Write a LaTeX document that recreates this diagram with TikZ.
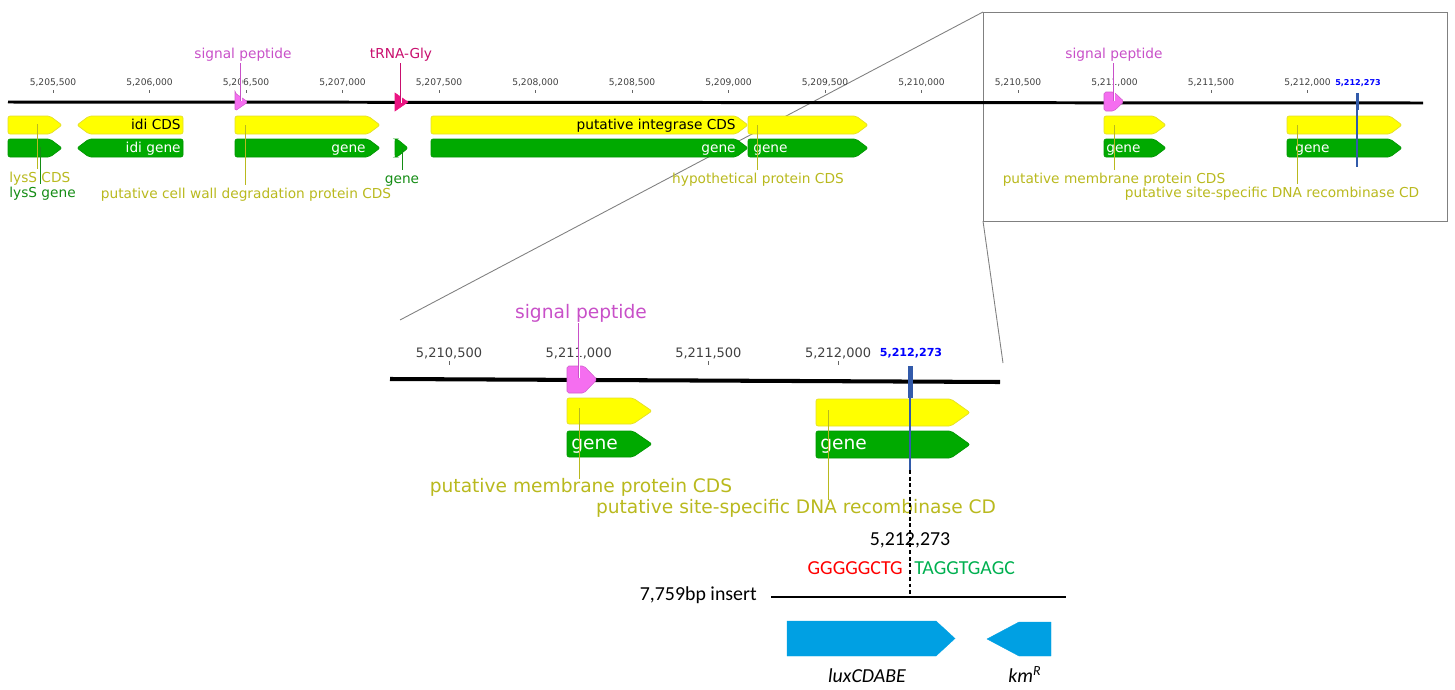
\documentclass[tikz,border=0pt]{standalone}
\usepackage{fontspec}
\setmainfont{DejaVu Sans}
\newfontfamily\slidefont{Carlito}
\usetikzlibrary{positioning}
\definecolor{cdsyellow}{RGB}{255,255,0}
\definecolor{cdsedge}{RGB}{228,222,40}
\definecolor{genegreen}{RGB}{0,170,0}
\definecolor{geneedge}{RGB}{0,150,0}
\definecolor{sigpink}{RGB}{245,110,240}
\definecolor{siglabel}{RGB}{200,80,200}
\definecolor{trnapink}{RGB}{235,20,130}
\definecolor{trnalabel}{RGB}{200,15,110}
\definecolor{cdslabel}{RGB}{185,185,30}
\definecolor{genelabel}{RGB}{20,140,20}
\definecolor{markblue}{RGB}{50,90,170}
\definecolor{luxblue}{RGB}{0,160,227}
\definecolor{seqred}{RGB}{255,0,0}
\definecolor{seqgreen}{RGB}{0,176,80}
\tikzset{
	track/.style = {line width=1.7pt, black},
	bigtrack/.style = {line width=2.3pt, black},
	tickmark/.style = {black!60, line width=0.5pt},
	ticklab/.style = {font=\fontsize{5.2}{6}\selectfont, text=black!75, inner sep=0pt},
	bigticklab/.style = {font=\fontsize{7.4}{9}\selectfont, text=black!75, inner sep=0pt},
	poslab/.style = {font=\bfseries\fontsize{4.6}{5}\selectfont, text=blue, inner sep=0pt},
	bigposlab/.style = {font=\bfseries\fontsize{6.3}{7}\selectfont, text=blue, inner sep=0pt},
	cdsbox/.style = {fill=cdsyellow, draw=cdsedge, line width=0.4pt, rounded corners=1.2pt},
	genebox/.style = {fill=genegreen, draw=geneedge, line width=0.4pt, rounded corners=1.2pt},
	sigbox/.style = {fill=sigpink, draw=sigpink!85!black, line width=0.3pt, rounded corners=1pt},
	trnabox/.style = {fill=trnapink, draw=trnapink, line width=0.3pt},
	featlab/.style = {font=\fontsize{7.8}{9}\selectfont, inner sep=0pt, text height=0.76em, text depth=0.24em},
	bigfeatlab/.style = {font=\fontsize{10.6}{12}\selectfont, inner sep=0pt, text height=0.76em, text depth=0.24em},
	lead/.style = {line width=0.5pt},
	hollowlead/.style = {double=white, double distance=0.5pt, line width=0.4pt},
	zoomframe/.style = {draw=black!50, line width=0.5pt},
	slidetext/.style = {font=\slidefont\fontsize{11.3}{13}\selectfont, inner sep=0pt, text height=0.7em, text depth=0.2em},
	luxarrow/.style = {fill=luxblue, draw=luxblue, line width=0.2pt}
}
% forward feature: style, x1, x2, ytop, ybottom, head length
\newcommand{\fwdfeat}[6]{\filldraw[#1] (#2,#4) -- ({#3-#6},#4) -- (#3,{(#4+#5)/2}) -- ({#3-#6},#5) -- (#2,#5) -- cycle;}
% reverse feature: style, x1 (tip), x2, ytop, ybottom, head length
\newcommand{\revfeat}[6]{\filldraw[#1] (#3,#4) -- ({#2+#6},#4) -- (#2,{(#4+#5)/2}) -- ({#2+#6},#5) -- (#3,#5) -- cycle;}

\begin{document}
\begin{tikzpicture}[x=0.02cm, y=-0.02cm]
		\useasboundingbox (0,0) rectangle (1455,690);
		
		% Zoom frame and zoom lines
		\coordinate (box_nw) at (983,12);
		\coordinate (box_sw) at (983,221);
		\coordinate (zoom_left) at (400,320);
		\coordinate (zoom_right) at (1003,363);
		\draw [zoomframe] (box_nw) rectangle (1447,221);
		\draw [zoomframe] (box_nw) -- (zoom_left);
		\draw [zoomframe] (box_sw) -- (zoom_right);
		
		% Top track: ruler
		\draw [track] (8,102) -- (1423,103);
		\foreach \k/\lab in {0/{205,500},1/{206,000},2/{206,500},3/{207,000},4/{207,500},5/{208,000},6/{208,500},7/{209,000},8/{209,500},9/{210,000},10/{210,500},11/{211,000},12/{211,500},13/{212,000}}{
			\draw [tickmark] ({53+96.5*\k},90) -- ++(0,3);
			\node (tick_\k) [ticklab] at ({53+96.5*\k},83) {5,\lab};
		}
		\node (pos_top) [poslab] at (1358,83) {5,212,273};
		
		% Top track: features
		\fwdfeat{cdsbox}{8}{62}{116}{134}{12}
		\fwdfeat{genebox}{8}{62}{139}{157}{12}
		\revfeat{cdsbox}{77}{183}{116}{134}{12}
		\revfeat{genebox}{77}{183}{139}{157}{12}
		\fwdfeat{sigbox}{235}{248}{93}{111}{13}
		\fwdfeat{cdsbox}{235}{380}{116}{134}{12}
		\fwdfeat{genebox}{235}{380}{139}{157}{12}
		\fwdfeat{trnabox}{395}{408}{93}{111}{13}
		\fwdfeat{genebox}{395}{408}{139}{157}{11}
		\fwdfeat{cdsbox}{431}{748}{116}{134}{12}
		\fwdfeat{genebox}{431}{748}{139}{157}{12}
		\fwdfeat{cdsbox}{748}{868}{116}{134}{12}
		\fwdfeat{genebox}{748}{868}{139}{157}{12}
		\fwdfeat{sigbox}{1104}{1124}{92}{111}{10}
		\fwdfeat{cdsbox}{1104}{1166}{116}{134}{12}
		\fwdfeat{genebox}{1104}{1166}{139}{157}{12}
		\fwdfeat{cdsbox}{1287}{1402}{116}{134}{12}
		\fwdfeat{genebox}{1287}{1402}{139}{157}{12}
		\fill [markblue] (1355.5,93) rectangle (1358.5,110);
		\draw [markblue, line width=0.6pt] (1357,110) -- (1357,167);
		
		% Top track: texts inside features
		\node (idi_cds) [featlab, anchor=east] at (181,125) {idi CDS};
		\node (idi_gene) [featlab, anchor=east, text=white] at (181,148) {idi gene};
		\node (cw_gene) [featlab, anchor=east, text=white] at (366,148) {gene};
		\node (int_cds) [featlab, anchor=east] at (736,125) {putative integrase CDS};
		\node (int_gene) [featlab, anchor=east, text=white] at (736,148) {gene};
		\node (hyp_gene) [featlab, anchor=west, text=white] at (753,148) {gene};
		\node (mem_gene) [featlab, anchor=west, text=white] at (1106,148) {gene};
		\node (rec_gene) [featlab, anchor=west, text=white] at (1295,148) {gene};
		
		% Top track: labels
		\node (sig_lab1) [featlab, text=siglabel] at (243,54) {signal peptide};
		\node (trna_lab) [featlab, text=trnalabel] at (401,54) {tRNA-Gly};
		\node (lys_cds) [featlab, text=cdslabel, anchor=west] at (9,178) {lysS CDS};
		\node (lys_gene) [featlab, text=genelabel, anchor=west] at (9,193) {lysS gene};
		\node (cw_lab) [featlab, text=cdslabel] at (246,194) {putative cell wall degradation protein CDS};
		\node (trna_gene) [featlab, text=genelabel] at (402,179) {gene};
		\node (hyp_lab) [featlab, text=cdslabel] at (758,179) {hypothetical protein CDS};
		\node (sig_lab2) [featlab, text=siglabel] at (1114,54) {signal peptide};
		\node (mem_lab) [featlab, text=cdslabel] at (1114,179) {putative membrane protein CDS};
		\node (rec_lab) [featlab, text=cdslabel] at (1272,193) {putative site-specific DNA recombinase CD};
		
		% Top track: leader lines
		\draw [hollowlead, siglabel] (sig_lab1.south -| 241,0) -- (241,101);
		\draw [hollowlead, trnalabel] (trna_lab.south -| 401,0) -- (401,103);
		\draw [hollowlead, siglabel] (sig_lab2.south -| 1114,0) -- (1114,101);
		\draw [lead, cdslabel] (37,124) -- (lys_cds.north -| 37,0);
		\draw [lead, genelabel] (40,147) -- (lys_gene.north -| 40,0);
		\draw [lead, cdslabel] (245,125) -- (cw_lab.north -| 245,0);
		\draw [lead, genelabel] (402,147) -- (trna_gene.north -| 402,0);
		\draw [lead, cdslabel] (757,125) -- (hyp_lab.north -| 757,0);
		\draw [lead, cdslabel] (1114,125) -- (mem_lab.north -| 1114,0);
		\draw [lead, cdslabel] (1297,125) -- (rec_lab.north -| 1297,0);
		
		% Bottom track: ruler
		\draw [bigtrack] (390,379) -- (1000,382);
		\foreach \k/\lab in {0/{210,500},1/{211,000},2/{211,500},3/{212,000}}{
			\draw [tickmark] ({449+129.7*\k},361) -- ++(0,4);
			\node (btick_\k) [bigticklab] at ({449+129.7*\k},353) {5,\lab};
		}
		\node (pos_bottom) [bigposlab] at (911,353) {5,212,273};
		
		% Bottom track: features
		\fwdfeat{sigbox}{567}{597}{366}{393}{13}
		\fwdfeat{cdsbox}{567}{652}{398}{424}{19}
		\fwdfeat{genebox}{567}{652}{431}{457}{19}
		\fwdfeat{cdsbox}{816}{970}{399}{426}{19}
		\fwdfeat{genebox}{816}{970}{431}{458}{19}
		\fill [markblue] (907.5,366) rectangle (912.5,398);
		\draw [markblue, line width=0.8pt] (910,398) -- (910,470);
		\node (bmem_gene) [bigfeatlab, anchor=west, text=white] at (571,445) {gene};
		\node (brec_gene) [bigfeatlab, anchor=west, text=white] at (820,445) {gene};
		
		% Bottom track: labels and leader lines
		\node (bsig_lab) [bigfeatlab, text=siglabel] at (581,314) {signal peptide};
		\node (bmem_lab) [bigfeatlab, text=cdslabel] at (581,488) {putative membrane protein CDS};
		\node (brec_lab) [bigfeatlab, text=cdslabel] at (796,509) {putative site-specific DNA recombinase CD};
		\draw [hollowlead, siglabel] (bsig_lab.south -| 579,0) -- (579,378);
		\draw [lead, cdslabel] (579,408) -- (bmem_lab.north -| 579,0);
		\draw [lead, cdslabel] (828,410) -- (brec_lab.north -| 828,0);
		
		% Insertion site
		\coordinate (site_top) at (910,470);
		\coordinate (site_bottom) at (910,598);
		\draw [dash pattern=on 2.2pt off 1.6pt, line width=0.7pt] (site_top) -- (site_bottom);
		\node (site_pos) [slidetext] at (910,541) {5,212,273};
		\node (seq_left) [slidetext, anchor=east, text=seqred] at (903,570) {GGGGGCTG};
		\node (seq_right) [slidetext, anchor=west, text=seqgreen] at (914,570) {TAGGTGAGC};
		\node (insert_lab) [slidetext, anchor=east] at (757,596) {7,759bp insert};
		\coordinate (ins_start) at (771,597);
		\coordinate (ins_end) at (1066,597);
		\draw [line width=1pt] (ins_start) -- (ins_end);
		
		% Insert genes
		\fwdfeat{luxarrow}{787}{955}{621}{656}{19}
		\revfeat{luxarrow}{987}{1051}{622}{656}{32}
		\node (lux_lab) [slidetext, font=\slidefont\itshape\fontsize{11.3}{13}\selectfont] at (867,678) {luxCDABE};
		\node (km_lab) [slidetext, font=\slidefont\itshape\fontsize{11.3}{13}\selectfont] at (1025,678) {km\textsuperscript{R}};
		
	\end{tikzpicture}
\end{document}
